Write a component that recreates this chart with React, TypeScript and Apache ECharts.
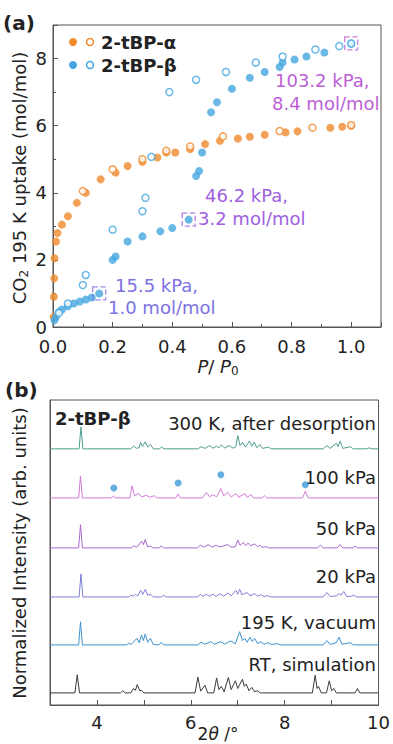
import React, { useEffect, useRef } from 'react';
import * as echarts from 'echarts';

// ---------- Panel (a): CO2 isotherms at 195 K ----------
const alphaAds: number[][] = [
  [0.002, 0.3], [0.003, 0.9], [0.004, 1.45], [0.005, 2.05], [0.01, 2.55], [0.015, 2.8],
  [0.03, 3.05], [0.05, 3.3], [0.08, 3.7], [0.11, 4.0], [0.16, 4.4], [0.21, 4.6],
  [0.25, 4.8], [0.3, 4.92], [0.35, 5.05], [0.38, 5.2], [0.41, 5.2], [0.46, 5.3],
  [0.51, 5.45], [0.56, 5.55], [0.62, 5.62], [0.66, 5.67], [0.71, 5.73], [0.78, 5.8],
  [0.82, 5.83], [0.93, 5.94], [0.97, 5.97], [1.0, 6.0],
];
const alphaDes: number[][] = [
  [1.0, 6.02], [0.87, 5.94], [0.76, 5.84], [0.57, 5.68], [0.46, 5.38], [0.38, 5.25],
  [0.3, 5.0], [0.2, 4.7], [0.1, 4.05],
];
const betaAds: number[][] = [
  [0.005, 0.2], [0.01, 0.3], [0.02, 0.45], [0.03, 0.52], [0.05, 0.62], [0.07, 0.7],
  [0.09, 0.76], [0.11, 0.82], [0.13, 0.88], [0.155, 1.0], [0.2, 2.0], [0.21, 2.1],
  [0.25, 2.55], [0.3, 2.7], [0.36, 2.85], [0.4, 2.95], [0.455, 3.2], [0.48, 4.5],
  [0.49, 4.65], [0.5, 5.2], [0.53, 6.4], [0.55, 6.7], [0.6, 7.1], [0.66, 7.43],
  [0.71, 7.6], [0.76, 7.75], [0.77, 7.88], [0.81, 7.97], [0.85, 8.06], [0.91, 8.18],
  [1.0, 8.45],
];
const betaDes: number[][] = [
  [1.0, 8.45], [0.96, 8.37], [0.88, 8.27], [0.77, 8.06], [0.68, 7.88], [0.58, 7.6],
  [0.48, 7.37], [0.39, 7.0], [0.33, 5.07], [0.31, 3.85], [0.3, 3.45], [0.2, 2.9],
  [0.11, 1.55], [0.1, 1.25], [0.05, 0.7], [0.02, 0.42],
];
const markedPoints: number[][] = [[0.155, 1.0], [0.455, 3.2], [1.0, 8.45]];
const markedLabels: string[][] = [
  ['15.5 kPa,', '1.0 mol/mol'],
  ['46.2 kPa,', '3.2 mol/mol'],
  ['103.2 kPa,', '8.4 mol/mol'],
];
const xTicksA = [0, 0.2, 0.4, 0.6, 0.8, 1.0];
const yTicksA = [0, 2, 4, 6, 8];

// ---------- Panel (b): PXRD patterns (2θ, normalized intensity) ----------
const patt300K: number[][] = [
  [3, 0], [3.62, 0], [3.66, 1.0], [3.7, 0],
  [4.72, 0], [4.78, 0.12], [4.84, 0.03], [4.9, 0.05], [4.93, 0.3], [4.97, 0.1], [5.03, 0.32],
  [5.08, 0.08], [5.14, 0.2], [5.2, 0], [5.33, 0], [5.38, 0.08], [5.43, 0],
  [6.15, 0], [6.22, 0.1], [6.3, 0.02], [6.4, 0.15], [6.47, 0.03], [6.55, 0.12], [6.6, 0.05],
  [6.65, 0.18], [6.72, 0.04], [6.82, 0.15], [6.9, 0.03], [6.96, 0.1], [7.0, 0.6], [7.05, 0.15],
  [7.1, 0.3], [7.16, 0.08], [7.25, 0.35], [7.3, 0.12], [7.35, 0.3], [7.41, 0.05], [7.47, 0.2],
  [7.53, 0.02], [7.65, 0.08], [7.72, 0],
  [8.82, 0], [8.9, 0.15], [8.97, 0.02], [9.1, 0.25], [9.14, 0.1], [9.18, 0.35], [9.24, 0.02],
  [9.4, 0.1], [9.46, 0], [9.75, 0], [9.8, 0.05], [9.85, 0], [10, 0],
];
const patt100kPa: number[][] = [
  [3, 0], [3.61, 0], [3.65, 1.0], [3.69, 0], [4.3, 0], [4.35, 0.08], [4.4, 0],
  [4.7, 0], [4.75, 0.55], [4.8, 0.1], [4.89, 0.2], [4.95, 0.05], [5.06, 0.12], [5.12, 0.03],
  [5.22, 0.1], [5.28, 0], [5.68, 0], [5.73, 0.18], [5.78, 0],
  [6.25, 0], [6.33, 0.25], [6.4, 0.05], [6.47, 0.15], [6.55, 0.05], [6.64, 0.42], [6.7, 0.1],
  [6.79, 0.25], [6.86, 0.04], [6.96, 0.2], [7.02, 0.03], [7.15, 0.2], [7.2, 0.02], [7.28, 0.15],
  [7.34, 0], [7.52, 0], [7.57, 0.1], [7.62, 0], [8.38, 0], [8.44, 0.3], [8.5, 0], [10, 0],
];
const patt50kPa: number[][] = [
  [3, 0], [3.61, 0], [3.65, 1.05], [3.69, 0], [4.74, 0], [4.78, 0.1], [4.85, 0.03],
  [4.95, 0.3], [4.99, 0.15], [5.03, 0.38], [5.08, 0.05], [5.14, 0.08], [5.2, 0], [5.33, 0],
  [5.37, 0.1], [5.42, 0], [6.14, 0], [6.2, 0.12], [6.28, 0.03], [6.37, 0.15], [6.45, 0.03],
  [6.54, 0.12], [6.62, 0.04], [6.79, 0.15], [6.86, 0.03], [6.95, 0.05], [7.0, 0.35], [7.05, 0.12],
  [7.12, 0.25], [7.17, 0.1], [7.22, 0.22], [7.28, 0.1], [7.36, 0.18], [7.42, 0.05], [7.47, 0.12],
  [7.53, 0.02], [7.6, 0.06], [7.66, 0], [8.7, 0], [8.76, 0.12], [8.82, 0], [9.12, 0],
  [9.18, 0.15], [9.24, 0], [9.45, 0], [9.5, 0.08], [9.55, 0], [10, 0],
];
const patt20kPa: number[][] = [
  [3, 0], [3.62, 0], [3.66, 1.05], [3.7, 0], [4.68, 0], [4.72, 0.08], [4.77, 0.03],
  [4.82, 0.12], [4.87, 0.05], [4.93, 0.3], [4.98, 0.12], [5.03, 0.35], [5.08, 0.08], [5.14, 0.12],
  [5.2, 0], [5.38, 0], [5.42, 0.08], [5.47, 0], [6.15, 0], [6.2, 0.12], [6.26, 0.03],
  [6.33, 0.12], [6.4, 0.03], [6.47, 0.12], [6.54, 0.03], [6.62, 0.15], [6.7, 0.04], [6.79, 0.18],
  [6.86, 0.05], [6.96, 0.3], [7.0, 0.12], [7.04, 0.35], [7.09, 0.1], [7.2, 0.2], [7.26, 0.05],
  [7.36, 0.15], [7.42, 0.04], [7.49, 0.1], [7.56, 0.02], [7.64, 0.06], [7.7, 0], [8.82, 0],
  [8.9, 0.2], [8.97, 0.02], [9.1, 0.05], [9.16, 0.15], [9.2, 0.08], [9.26, 0.25], [9.32, 0.02],
  [9.42, 0.03], [9.47, 0.08], [9.53, 0], [10, 0],
];
const patt195K: number[][] = [
  [3, 0], [3.61, 0], [3.65, 1.05], [3.69, 0], [4.63, 0], [4.68, 0.08], [4.73, 0.02],
  [4.85, 0.3], [4.9, 0.1], [4.95, 0.45], [4.99, 0.2], [5.03, 0.5], [5.08, 0.12], [5.14, 0.3],
  [5.2, 0.02], [5.32, 0], [5.37, 0.12], [5.42, 0], [6.15, 0], [6.22, 0.12], [6.3, 0.03],
  [6.43, 0.15], [6.5, 0.03], [6.64, 0.15], [6.72, 0.04], [6.85, 0.18], [6.95, 0.05], [7.04, 0.6],
  [7.1, 0.2], [7.15, 0.3], [7.2, 0.12], [7.26, 0.35], [7.31, 0.15], [7.36, 0.3], [7.42, 0.06],
  [7.49, 0.15], [7.56, 0.03], [7.64, 0.1], [7.72, 0.02], [7.85, 0.06], [7.9, 0], [8.82, 0],
  [8.9, 0.2], [8.97, 0.02], [9.1, 0.1], [9.16, 0.35], [9.22, 0.03], [9.4, 0.1], [9.46, 0], [10, 0],
];
const pattSim: number[][] = [
  [3, 0], [3.53, 0], [3.58, 0.82], [3.63, 0], [4.5, 0], [4.55, 0.1], [4.6, 0], [4.72, 0],
  [4.78, 0.2], [4.82, 0.12], [4.86, 0.38], [4.91, 0.1], [4.95, 0.12], [5.0, 0], [6.09, 0],
  [6.15, 0.72], [6.21, 0.08], [6.3, 0.35], [6.36, 0], [6.49, 0], [6.55, 0.68], [6.6, 0.15],
  [6.65, 0.3], [6.71, 0.05], [6.8, 0.7], [6.86, 0.15], [6.95, 0.55], [7.0, 0.2], [7.1, 0.62],
  [7.14, 0.3], [7.18, 0.4], [7.24, 0.1], [7.3, 0.25], [7.36, 0.05], [7.42, 0.1], [7.48, 0],
  [8.59, 0], [8.65, 0.8], [8.69, 0.2], [8.72, 0.3], [8.78, 0], [8.89, 0], [8.95, 0.55],
  [9.0, 0.1], [9.05, 0.2], [9.1, 0], [9.5, 0], [9.55, 0.2], [9.6, 0], [10, 0],
];
const starMarks100kPa: number[][] = [[4.36, 0.45], [5.73, 0.68], [6.64, 1.05], [8.44, 0.6]];
const traceNames = ['RT, simulation', '195 K, vacuum', '20 kPa', '50 kPa', '100 kPa', '300 K, after desorption'];
const xTicksB = [4, 6, 8, 10];

// ---------- styling / layout ----------
const FONT = 'DejaVu Sans';
const ORANGE = '#F08A2C';
const BLUE = '#45A6E0';
const MARK_COLORS = ['#7C72E2', '#9E5FE0', '#BC5FD6'];
const TRACE_COLORS = ['#3a3a3a', '#3E92CC', '#7F80D4', '#A966CC', '#D27AD6', '#4F9E90'];
const STAR_COLOR = '#3D9AD8';
const TRACE_OFFSETS = [0.55, 2.73, 4.91, 7.14, 9.41, 11.64];
const LABEL_Y = [664, 622, 576, 528, 477, 423];
const MARK_TEXT_POS = [[115, 108, 285, 307], [205, 198, 195, 218], [275, 272, 80, 103]];
const AXIS_COLOR = '#555';

function buildOption(): any {
  const graphic: any[] = [];
  const txt = (x: number, y: number, text: string, extra: any = {}) => ({
    type: 'text', x, y, silent: true,
    style: { text, fontFamily: FONT, fontSize: 18, fill: '#222', align: 'left', verticalAlign: 'middle', ...extra },
  });
  graphic.push(txt(3, 23, '(a)', { fontWeight: 'bold', fontSize: 20 }));
  graphic.push(txt(5, 390, '(b)', { fontWeight: 'bold', fontSize: 20 }));
  // legend
  graphic.push({ type: 'circle', shape: { cx: 73, cy: 42, r: 4 }, style: { fill: ORANGE } });
  graphic.push({ type: 'circle', shape: { cx: 90, cy: 42, r: 3.5 }, style: { fill: '#fff', stroke: ORANGE, lineWidth: 1.5 } });
  graphic.push(txt(101, 42, '2-tBP-α', { fontWeight: 'bold' }));
  graphic.push({ type: 'circle', shape: { cx: 73, cy: 65, r: 4 }, style: { fill: BLUE } });
  graphic.push({ type: 'circle', shape: { cx: 90, cy: 65, r: 3.5 }, style: { fill: '#fff', stroke: BLUE, lineWidth: 1.5 } });
  graphic.push(txt(101, 65, '2-tBP-β', { fontWeight: 'bold' }));
  // annotations
  markedLabels.forEach((lab, i) => {
    const p = MARK_TEXT_POS[i];
    graphic.push(txt(p[0], p[2], lab[0], { fill: MARK_COLORS[i] }));
    graphic.push(txt(p[1], p[3], lab[1], { fill: MARK_COLORS[i] }));
  });
  // axis titles
  graphic.push({
    type: 'text', x: 19, y: 178, rotation: Math.PI / 2, silent: true,
    style: {
      text: '{a|CO}{s|2}{a| 195 K uptake (mol/mol)}', align: 'center', verticalAlign: 'middle', fill: '#222',
      rich: {
        a: { fontFamily: FONT, fontSize: 18, lineHeight: 22, fill: '#222' },
        s: { fontFamily: FONT, fontSize: 12, lineHeight: 12, verticalAlign: 'bottom', fill: '#222' },
      },
    },
  });
  graphic.push({
    type: 'text', x: 218, y: 366, silent: true,
    style: {
      text: '{i|P}{a|/ }{i|P}{s|0}', align: 'center', verticalAlign: 'middle', fill: '#222',
      rich: {
        i: { fontFamily: FONT, fontSize: 18, fontStyle: 'italic', lineHeight: 22, fill: '#222' },
        a: { fontFamily: FONT, fontSize: 18, lineHeight: 22, fill: '#222' },
        s: { fontFamily: FONT, fontSize: 12, lineHeight: 12, verticalAlign: 'bottom', fill: '#222' },
      },
    },
  });
  graphic.push({
    type: 'text', x: 19, y: 553, rotation: Math.PI / 2, silent: true,
    style: { text: 'Normalized Intensity (arb. units)', fontFamily: FONT, fontSize: 18, fill: '#222', align: 'center', verticalAlign: 'middle' },
  });
  graphic.push({
    type: 'text', x: 218, y: 734, silent: true,
    style: {
      text: '{a|2}{i|θ}{a| /°}', align: 'center', verticalAlign: 'middle', fill: '#222',
      rich: {
        a: { fontFamily: FONT, fontSize: 17, lineHeight: 19, fill: '#222' },
        i: { fontFamily: FONT, fontSize: 17, lineHeight: 19, fontStyle: 'italic', fill: '#222' },
      },
    },
  });
  graphic.push(txt(55, 418, '2-tBP-β', { fontWeight: 'bold' }));
  traceNames.forEach((n, i) => {
    graphic.push(txt(376, LABEL_Y[i], n, { align: 'right' }));
  });

  const axisCommon = {
    axisLine: { show: true, lineStyle: { color: AXIS_COLOR, width: 1 } },
    axisTick: { show: true, inside: true, length: 5, lineStyle: { color: AXIS_COLOR } },
    splitLine: { show: false },
    minorSplitLine: { show: false },
  };
  const labelCommon = { color: '#222', fontSize: 18, fontFamily: FONT };

  const series: any[] = [
    {
      type: 'scatter', xAxisIndex: 0, yAxisIndex: 0, data: alphaAds, symbolSize: 8,
      itemStyle: { color: ORANGE }, z: 3,
    },
    {
      type: 'scatter', xAxisIndex: 0, yAxisIndex: 0, data: alphaDes, symbolSize: 7,
      itemStyle: { color: '#fff', borderColor: ORANGE, borderWidth: 1.5 }, z: 4,
    },
    {
      type: 'scatter', xAxisIndex: 0, yAxisIndex: 0, data: betaAds, symbolSize: 8,
      itemStyle: { color: BLUE }, z: 3,
    },
    {
      type: 'scatter', xAxisIndex: 0, yAxisIndex: 0, data: betaDes, symbolSize: 7,
      itemStyle: { color: '#fff', borderColor: BLUE, borderWidth: 1.5 }, z: 4,
    },
    {
      type: 'scatter', xAxisIndex: 0, yAxisIndex: 0, symbol: 'rect', symbolSize: 13, z: 5,
      data: markedPoints.map((p, i) => ({
        value: p,
        itemStyle: { color: 'rgba(0,0,0,0)', borderColor: MARK_COLORS[i], borderWidth: 1.3, borderType: 'dashed' },
      })),
    },
  ];
  const patterns = [pattSim, patt195K, patt20kPa, patt50kPa, patt100kPa, patt300K];
  patterns.forEach((pat, i) => {
    series.push({
      type: 'line', xAxisIndex: 1, yAxisIndex: 1, showSymbol: false, symbol: 'none',
      data: pat.map(([x, y]) => [x, y + TRACE_OFFSETS[i]]),
      lineStyle: { color: TRACE_COLORS[i], width: 1 },
    });
  });
  series.push({
    type: 'scatter', xAxisIndex: 1, yAxisIndex: 1, symbolSize: 7, z: 5,
    data: starMarks100kPa.map(([x, y]) => [x, y + TRACE_OFFSETS[4]]),
    itemStyle: { color: STAR_COLOR },
  });

  return {
    animation: false,
    backgroundColor: '#fff',
    grid: [
      { left: 53, right: 12, top: 25, bottom: 417, show: true, borderColor: AXIS_COLOR, borderWidth: 1, backgroundColor: 'transparent' },
      { left: 50, right: 12, top: 400, bottom: 39, show: true, borderColor: AXIS_COLOR, borderWidth: 1, backgroundColor: 'transparent' },
    ],
    xAxis: [
      {
        gridIndex: 0, type: 'value', min: 0, max: 1.1, interval: 0.2, ...axisCommon,
        minorTick: { show: true, splitNumber: 2, length: 3, lineStyle: { color: AXIS_COLOR } },
        axisLabel: {
          ...labelCommon, margin: 11, lineHeight: 16, showMaxLabel: false,
          formatter: (v: number) => (xTicksA.some((t) => Math.abs(t - v) < 1e-6) ? v.toFixed(1) : ''),
        },
      },
      {
        gridIndex: 1, type: 'value', min: 3, max: 10, interval: 1, ...axisCommon,
        axisLabel: {
          ...labelCommon, margin: 8,
          formatter: (v: number) => (xTicksB.some((t) => Math.abs(t - v) < 1e-6) ? String(v) : ''),
        },
      },
    ],
    yAxis: [
      {
        gridIndex: 0, type: 'value', min: 0, max: 9, interval: 2, ...axisCommon,
        minorTick: { show: true, splitNumber: 2, length: 3, lineStyle: { color: AXIS_COLOR } },
        axisLabel: {
          ...labelCommon, margin: 6, lineHeight: 14, showMaxLabel: false,
          formatter: (v: number) => (yTicksA.includes(v) ? String(v) : ''),
        },
      },
      {
        gridIndex: 1, type: 'value', min: 0, max: 13.86,
        axisLine: { show: true, lineStyle: { color: AXIS_COLOR, width: 1 } },
        axisTick: { show: false }, axisLabel: { show: false }, splitLine: { show: false },
      },
    ],
    graphic,
    series,
  };
}

export default function App() {
  const ref = useRef<HTMLDivElement>(null);
  useEffect(() => {
    document.body.style.margin = '0';
    const chart = echarts.init(ref.current!, null, { renderer: 'svg' });
    chart.setOption(buildOption());
    return () => chart.dispose();
  }, []);
  return <div ref={ref} style={{ width: 393, height: 744, background: '#fff' }} />;
}
